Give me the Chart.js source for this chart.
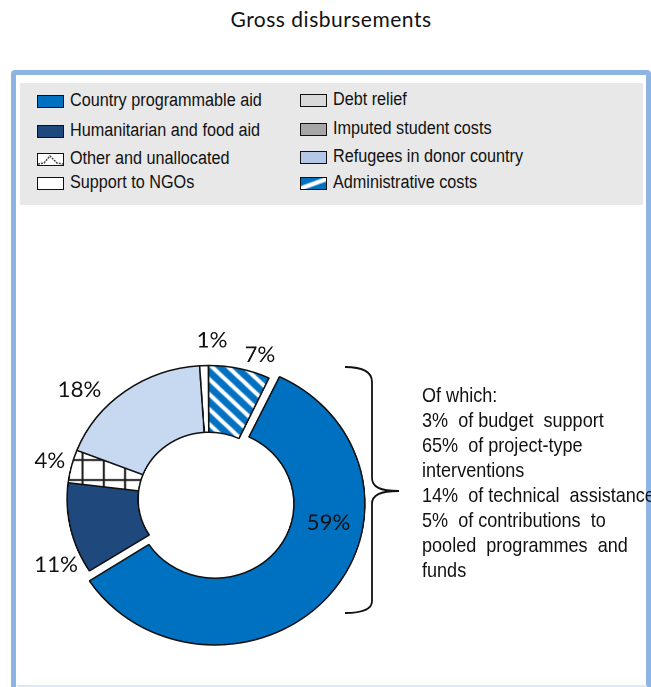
<!DOCTYPE html>
<html>
<head>
<meta charset="utf-8">
<title>Gross disbursements</title>
<script src="https://cdn.jsdelivr.net/npm/chart.js@4"></script>
<style>
  body { margin: 0; background: #fff; }
  #page { position: relative; width: 651px; height: 687px; overflow: hidden; }
  #title { position: absolute; left: 0; width: 662px; top: 6px; text-align: center;
           font: 21px Lato, Carlito, sans-serif; letter-spacing: 0.5px; color: #111; }
  #frame { position: absolute; left: 11px; top: 70px; width: 630px; height: 640px;
           border: 5px solid #8db4e2; border-radius: 4px; }
  #foot { position: absolute; left: 17px; top: 685px; width: 630px; height: 2px; background: #dde8f5; }
  #legend { position: absolute; left: 20px; top: 83px; width: 623px; height: 122px; background: #e8e8e8; }
  .item { position: absolute; height: 14px; }
  .sw { position: absolute; left: 0; top: 0; width: 25px; height: 11px; border: 1.5px solid #111; }
  .lt { position: absolute; left: 33px; top: -5px; white-space: nowrap; color: #111;
        font: 18px "Liberation Sans", Arial, sans-serif; transform: scaleX(0.9); transform-origin: left center; }
  #ring { position: absolute; left: 29px; top: 319px; width: 360px; height: 360px;
          transform: scaleX(1.063); transform-origin: 180px 180px; }
  #brace { position: absolute; left: 0; top: 0; }
  #note { position: absolute; left: 422px; top: 382px; white-space: pre; color: #111;
          font: 21px/25px "Liberation Sans", Arial, sans-serif; transform: scaleX(0.86); transform-origin: left top; }
</style>
</head>
<body>
<div id="page">
  <div id="title">Gross disbursements</div>
  <div id="frame"></div>
  <div id="foot"></div>
  <div id="legend"></div>
  <div id="ring"><canvas id="donut" width="360" height="360"></canvas></div>
  <svg id="brace" width="651" height="687">
    <path d="M345,367 C362,367 372,371 372,382 L372,478 C372,487 380,491 399,491 C380,491 372,495 372,504 L372,601 C372,610 362,613 345,613"
          fill="none" stroke="#111" stroke-width="1.8"/>
  </svg>
  <div id="note"></div>
</div>
<script>
// shares of gross disbursements, in percent
const categories = ['Country programmable aid', 'Humanitarian and food aid', 'Other and unallocated',
  'Debt relief', 'Support to NGOs', 'Imputed student costs', 'Refugees in donor country', 'Administrative costs'];
const shares = [59, 11, 4, 18, 1, 0, 0, 7];

// breakdown of country programmable aid
const cpaBreakdown = ['Of which:', '3%  of budget  support', '65%  of project-type', 'interventions',
  '14%  of technical  assistance', '5%  of contributions  to', 'pooled  programmes  and', 'funds'];

// legend columns (indexes into categories)
const legendCols = [[0, 1, 2, 4], [3, 5, 6, 7]];

// --- fills

function hatch(size, draw) {
  const c = document.createElement('canvas');
  c.width = size; c.height = size;
  const g = c.getContext('2d');
  draw(g, size);
  return g.createPattern(c, 'repeat');
}

const gridFill = hatch(20, (g, s) => {
  g.fillStyle = '#fff'; g.fillRect(0, 0, s, s);
  g.fillStyle = '#222';
  g.fillRect(0, 0, s, 2);
  g.fillRect(0, 0, 2, s);
});

const stripeFill = hatch(15, (g, s) => {
  g.fillStyle = '#0070c0'; g.fillRect(0, 0, s, s);
  g.strokeStyle = '#fff'; g.lineWidth = 4;
  for (let k = -1; k <= 1; k++) {
    g.beginPath();
    g.moveTo(-s, -s + k * s);
    g.lineTo(2 * s, 2 * s + k * s);
    g.stroke();
  }
});

const sliceColors = ['#0070c0', '#1f497d', gridFill, '#c6d9f1', '#ffffff', '#a6a6a6', '#b4c7e7', stripeFill];

const zigzag = "url(\"data:image/svg+xml;utf8,<svg xmlns='http://www.w3.org/2000/svg' width='25' height='11'><polyline points='0,10 6,9 12,2 19,9 25,10' fill='none' stroke='%23444' stroke-width='1.5' stroke-dasharray='2,1'/></svg>\")";
const swatchCss = ['#0070c0', '#1f497d', zigzag + ' #fff', '#d9d9d9', '#fff', '#a6a6a6', '#b4c7e7',
  'linear-gradient(160deg, #0070c0 0 35%, #fff 45% 58%, #0070c0 68%)'];

// --- legend

const legendBox = document.getElementById('legend');
const rowTops = [[12, 42, 70, 94], [11, 40, 68, 94]];
legendCols.forEach((col, ci) => {
  col.forEach((idx, ri) => {
    const item = document.createElement('div');
    item.className = 'item';
    item.style.left = (ci === 0 ? 17 : 280) + 'px';
    item.style.top = rowTops[ci][ri] + 'px';
    const sw = document.createElement('div');
    sw.className = 'sw';
    sw.style.background = swatchCss[idx];
    const lt = document.createElement('div');
    lt.className = 'lt';
    lt.textContent = categories[idx];
    item.appendChild(sw);
    item.appendChild(lt);
    legendBox.appendChild(item);
  });
});

document.getElementById('note').textContent = cpaBreakdown.join('\n');

// --- labels: [angle shift in degrees, distance from ring edge]
const labelNudge = [[-33, 2], [-12, 25], [0, 21], [-12, 30], [3, 25], [0, 0], [0, 0], [6, 18]];
const pullOut = 30; // exploded slice, shifted by half of this

const sliceLabels = {
  id: 'sliceLabels',
  afterDatasetsDraw(chart) {
    const ctx = chart.ctx;
    const meta = chart.getDatasetMeta(0);
    ctx.save();
    ctx.font = '21px Lato, Carlito, sans-serif';
    ctx.fillStyle = '#111';
    ctx.textAlign = 'center';
    ctx.textBaseline = 'middle';
    meta.data.forEach((arc, i) => {
      if (!shares[i]) return;
      const p = arc.getProps(['x', 'y', 'startAngle', 'endAngle', 'innerRadius', 'outerRadius'], true);
      const off = (arc.options.offset || 0) / 2;
      const mid = (p.startAngle + p.endAngle) / 2;
      const a = mid + labelNudge[i][0] * Math.PI / 180;
      const r = i === 0 ? (p.innerRadius + p.outerRadius) / 2 + labelNudge[i][1] : p.outerRadius + labelNudge[i][1];
      const lx = p.x + Math.cos(mid) * off + Math.cos(a) * r;
      const ly = p.y + Math.sin(mid) * off + Math.sin(a) * r;
      ctx.fillText(shares[i] + '%', lx, ly);
    });
    ctx.restore();
  }
};

new Chart(document.getElementById('donut'), {
  type: 'doughnut',
  data: {
    labels: categories,
    datasets: [{
      data: shares,
      backgroundColor: sliceColors,
      borderColor: '#111',
      borderWidth: 1.5,
      offset: shares.map((v, i) => i === 0 ? pullOut : 0)
    }]
  },
  options: {
    responsive: false,
    animation: false,
    devicePixelRatio: 2,
    rotation: 25,
    radius: 133.5,
    cutout: '50%',
    layout: { padding: 0 },
    plugins: { legend: { display: false }, tooltip: { enabled: false } }
  },
  plugins: [sliceLabels]
});
</script>
</body>
</html>
